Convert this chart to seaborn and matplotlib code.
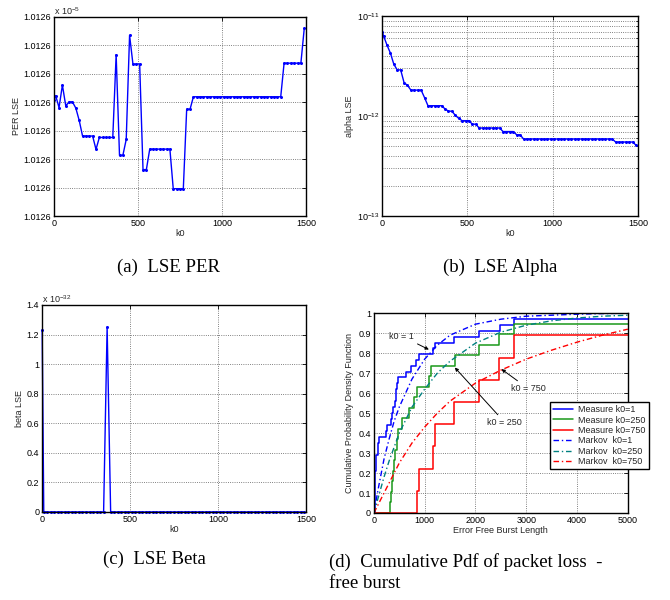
import numpy as np
import matplotlib
matplotlib.use("Agg")
import matplotlib.pyplot as plt
import seaborn as sns
from matplotlib.ticker import FixedLocator, FormatStrFormatter

# ---------------------------------------------------------------------------
# data
# ---------------------------------------------------------------------------
k0 = np.r_[1, np.arange(10, 1500, 20)]

# PER LSE, in units of 1e-5
per_lse = ([1.01260407, 1.01260423, 1.01260381, 1.01260460, 1.01260387,
            1.01260401, 1.01260401, 1.01260379, 1.01260336]
           + [1.01260281] * 4 + [1.01260234] + [1.01260276] * 5
           + [1.01260567] + [1.01260213] * 2 + [1.01260269] + [1.01260635]
           + [1.01260534] * 3 + [1.01260163] * 2 + [1.01260235] * 7
           + [1.01260096] * 4 + [1.01260375] * 2 + [1.01260419] * 27
           + [1.01260537] * 6 + [1.01260659])

alpha_lse = ([6.95e-12, 6.34e-12, 5.13e-12, 4.27e-12, 3.30e-12, 2.90e-12,
              2.90e-12, 2.16e-12, 2.03e-12]
             + [1.82e-12] * 4 + [1.53e-12] + [1.27e-12] * 5 + [1.18e-12]
             + [1.12e-12] * 2 + [1.02e-12] + [9.5e-13] + [9.0e-13] * 3
             + [8.3e-13] * 2 + [7.6e-13] * 7 + [7.0e-13] * 4 + [6.5e-13] * 2
             + [5.9e-13] * 27 + [5.5e-13] * 6 + [5.1e-13])

# beta LSE, in units of 1e-32
beta_lse = [1.23] + [0.0] * 18 + [1.25] + [0.0] * 56

# measured CDF steps
meas1_x = [0, 20, 45, 75, 110, 230, 260, 330, 350, 380, 410, 430, 460, 480,
           640, 740, 830, 880, 1170, 1210, 1570, 2070, 2480, 2760, 5000]
meas1_y = [0, 0.21, 0.29, 0.35, 0.38, 0.41, 0.44, 0.47, 0.50, 0.53, 0.56,
           0.62, 0.65, 0.68, 0.706, 0.735, 0.765, 0.794, 0.824, 0.853, 0.882,
           0.912, 0.941, 0.971, 0.971]
meas250_x = [0, 310, 330, 360, 380, 395, 425, 450, 475, 560, 700, 800, 840,
             1090, 1130, 1590, 2070, 2460, 2750, 5000]
meas250_y = [0, 0.053, 0.105, 0.158, 0.21, 0.263, 0.316, 0.368, 0.421, 0.474,
             0.526, 0.579, 0.632, 0.684, 0.737, 0.789, 0.842, 0.895, 0.947,
             0.947]
meas750_x = [0, 850, 880, 1160, 1200, 1580, 2070, 2470, 2760, 5000]
meas750_y = [0, 0.111, 0.222, 0.333, 0.444, 0.556, 0.667, 0.778, 0.889, 0.889]

# Markov model curves
burst_x = [0, 100, 200, 300, 400, 500, 750, 1000, 1250, 1500, 2000, 2500,
           3000, 3500, 4000, 4500, 5000]
markov1 = [0, 0.14, 0.27, 0.37, 0.46, 0.53, 0.67, 0.77, 0.84, 0.89, 0.945,
           0.97, 0.985, 0.99, 0.995, 0.998, 1.0]
markov250 = [0, 0.09, 0.18, 0.26, 0.33, 0.40, 0.53, 0.62, 0.70, 0.76, 0.85,
             0.905, 0.94, 0.962, 0.976, 0.985, 0.99]
markov750 = [0, 0.05, 0.10, 0.15, 0.20, 0.25, 0.35, 0.43, 0.50, 0.56, 0.65,
             0.715, 0.77, 0.815, 0.855, 0.89, 0.92]

# ---------------------------------------------------------------------------
sns.set_theme(style="white")
plt.rcParams["font.family"] = ["Liberation Sans", "DejaVu Sans"]
plt.rcParams["mathtext.default"] = "regular"

FS = 6.5
BLUE = (0, 0, 1)
GREEN = (0.1, 0.6, 0.1)
TEAL = (0, 0.5, 0.5)
RED = (1, 0, 0)
GRID = dict(linestyle=":", color="0.35", linewidth=0.6)


def style_axes(ax):
    for s in ax.spines.values():
        s.set_color("black")
        s.set_linewidth(1.0)
    ax.tick_params(which="both", direction="in", top=True, right=True,
                   labelsize=FS, colors="black", length=3, width=0.6, pad=2)
    ax.tick_params(which="minor", length=1.5)


fig = plt.figure(figsize=(6.7, 6.0), dpi=100)

# (a) PER LSE
axA = fig.add_axes([0.0806, 0.64, 0.376, 0.332])
sns.lineplot(x=k0, y=per_lse, ax=axA, color=BLUE, lw=1.0, marker="o",
             markersize=2.2, markeredgewidth=0)
axA.set_xlim(0, 1500)
axA.set_ylim(1.012600, 1.012607)
axA.yaxis.set_major_locator(FixedLocator(np.linspace(1.012600, 1.012607, 8)))
axA.yaxis.set_major_formatter(FormatStrFormatter("%.4f"))
axA.set_xticks([0, 500, 1000, 1500])
axA.grid(True, **GRID)
axA.set_xlabel("k0", fontsize=FS, labelpad=1)
axA.set_ylabel("PER LSE", fontsize=FS, labelpad=2)
axA.text(0, 1.008, r"x 10$^{-5}$", transform=axA.transAxes, fontsize=FS)
style_axes(axA)

# (b) alpha LSE
axB = fig.add_axes([0.570, 0.64, 0.382, 0.333])
sns.lineplot(x=k0, y=alpha_lse, ax=axB, color=BLUE, lw=1.0, marker="o",
             markersize=2.2, markeredgewidth=0)
axB.set_yscale("log")
axB.set_xlim(0, 1500)
axB.set_ylim(1e-13, 1e-11)
axB.set_xticks([0, 500, 1000, 1500])
axB.grid(True, which="major", **GRID)
axB.yaxis.grid(True, which="minor", **GRID)
axB.set_xlabel("k0", fontsize=FS, labelpad=1)
axB.set_ylabel("alpha LSE", fontsize=FS, labelpad=2)
style_axes(axB)

# (c) beta LSE
axC = fig.add_axes([0.0627, 0.1467, 0.394, 0.345])
sns.lineplot(x=k0, y=beta_lse, ax=axC, color=BLUE, lw=1.0, marker="o",
             markersize=2.2, markeredgewidth=0, clip_on=False)
axC.set_xlim(0, 1500)
axC.set_ylim(0, 1.4)
axC.set_yticks([0, 0.2, 0.4, 0.6, 0.8, 1.0, 1.2, 1.4])
axC.set_yticklabels(["0", "0.2", "0.4", "0.6", "0.8", "1", "1.2", "1.4"])
axC.set_xticks([0, 500, 1000, 1500])
axC.grid(True, **GRID)
axC.set_xlabel("k0", fontsize=FS, labelpad=1)
axC.set_ylabel("beta LSE", fontsize=FS, labelpad=2)
axC.text(0, 1.008, r"x 10$^{-32}$", transform=axC.transAxes, fontsize=FS)
style_axes(axC)

# (d) cumulative pdf
axD = fig.add_axes([0.558, 0.145, 0.379, 0.333])
DD = (0, (4, 2, 1, 2))
sns.lineplot(x=meas1_x, y=meas1_y, ax=axD, color=BLUE, lw=1.1,
             drawstyle="steps-post", label="Measure k0=1")
sns.lineplot(x=meas250_x, y=meas250_y, ax=axD, color=GREEN, lw=1.1,
             drawstyle="steps-post", label="Measure k0=250")
sns.lineplot(x=meas750_x, y=meas750_y, ax=axD, color=RED, lw=1.1,
             drawstyle="steps-post", label="Measure k0=750")
sns.lineplot(x=burst_x, y=markov1, ax=axD, color=BLUE, lw=1.0,
             linestyle=DD, label="Markov  k0=1")
sns.lineplot(x=burst_x, y=markov250, ax=axD, color=TEAL, lw=1.0,
             linestyle=DD, label="Markov  k0=250")
sns.lineplot(x=burst_x, y=markov750, ax=axD, color=RED, lw=1.0,
             linestyle=DD, label="Markov  k0=750")
axD.set_xlim(0, 5000)
axD.set_ylim(0, 1)
axD.set_xticks([0, 1000, 2000, 3000, 4000, 5000])
axD.set_yticks(np.round(np.arange(0, 1.01, 0.1), 1))
axD.set_yticklabels(["0", "0.1", "0.2", "0.3", "0.4", "0.5", "0.6", "0.7",
                     "0.8", "0.9", "1"])
axD.grid(True, **GRID)
axD.set_xlabel("Error Free Burst Length", fontsize=FS, labelpad=1)
axD.set_ylabel("Cumulative Probability Density Function", fontsize=FS,
               labelpad=3)
arrow = dict(arrowstyle="-|>", color="black", lw=0.7,
             mutation_scale=5, shrinkA=0, shrinkB=0)
axD.annotate("k0 = 1", xy=(1083, 0.818), xytext=(551, 0.885),
             fontsize=FS, ha="center", va="center",
             arrowprops=arrow)
axD.annotate("k0 = 250", xy=(1594, 0.728), xytext=(2579, 0.453),
             fontsize=FS, ha="center", va="center",
             arrowprops=arrow)
axD.annotate("k0 = 750", xy=(2513, 0.72), xytext=(3038, 0.623),
             fontsize=FS, ha="center", va="center",
             arrowprops=arrow)
leg = axD.legend(loc="upper left", bbox_to_anchor=(0.693, 0.555),
                 fontsize=FS, frameon=True, fancybox=False, framealpha=1,
                 edgecolor="black", borderpad=0.35, labelspacing=0.15,
                 handlelength=2.2, handletextpad=0.6, borderaxespad=0)
leg.get_frame().set_linewidth(1.0)
style_axes(axD)

# captions
CAP = dict(fontsize=13.5, family=["Liberation Serif", "DejaVu Serif"],
           color="black")
fig.text(0.251, 0.555, "(a)  LSE PER", ha="center", va="center", **CAP)
fig.text(0.746, 0.555, "(b)  LSE Alpha", ha="center", va="center", **CAP)
fig.text(0.231, 0.067, "(c)  LSE Beta", ha="center", va="center", **CAP)
fig.text(0.491, 0.063, "(d)  Cumulative Pdf of packet loss  -",
         ha="left", va="center", **CAP)
fig.text(0.491, 0.027, "free burst", ha="left", va="center", **CAP)

fig.savefig("out.png", dpi=100)
